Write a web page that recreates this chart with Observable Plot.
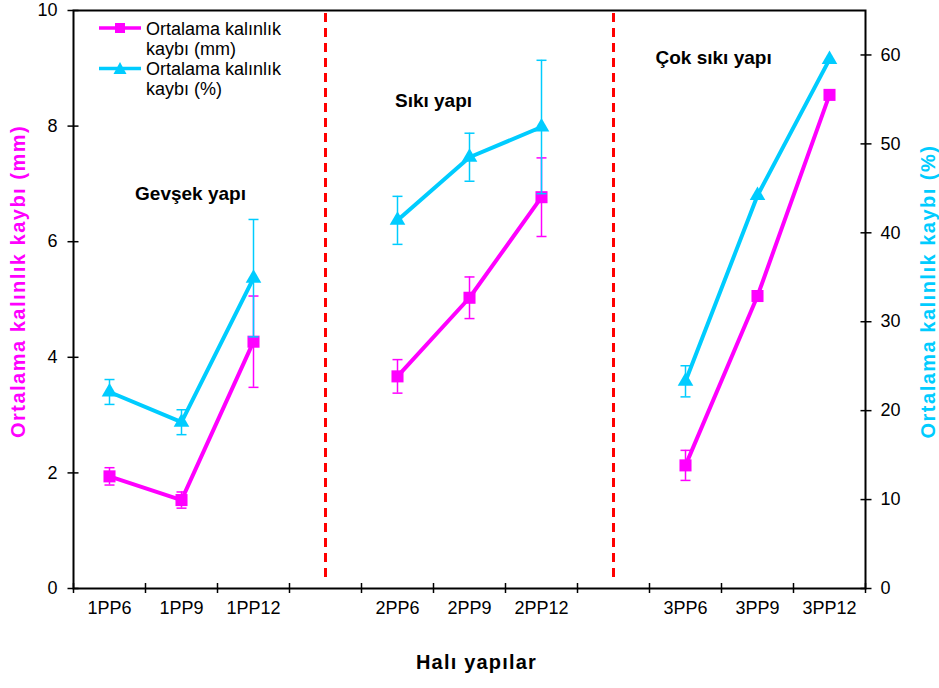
<!DOCTYPE html>
<html>
<head>
<meta charset="utf-8">
<script src="https://cdn.jsdelivr.net/npm/d3@7"></script>
<script src="https://cdn.jsdelivr.net/npm/@observablehq/plot@0.6"></script>
<style>
  body { margin: 0; background: #fff; }
  #wrap { position: relative; width: 939px; height: 688px; font-family: "Liberation Sans", Arial, sans-serif; }
  #legendSym { position: absolute; left: 0; top: 0; }
  #legendText { position: absolute; left: 146px; top: 18.6px; font-size: 18px; line-height: 20.3px; color: #000; white-space: nowrap; }
</style>
</head>
<body>
<div id="wrap">
  <div id="chart"></div>
  <svg id="legendSym" width="200" height="110">
    <line x1="99" x2="141" y1="28" y2="28" stroke="#FF00FF" stroke-width="3.5"/>
    <rect x="115" y="23" width="10" height="10" fill="#FF00FF"/>
    <line x1="99" x2="141" y1="68.5" y2="68.5" stroke="#00CCFF" stroke-width="3.5"/>
    <path d="M120,62 L126.5,74 L113.5,74 Z" fill="#00CCFF"/>
  </svg>
  <div id="legendText">Ortalama kalınlık<br>kaybı (mm)<br>Ortalama kalınlık<br>kaybı (%)</div>
</div>
<script>
// ---- data ----
const slots = ["1PP6", "1PP9", "1PP12", "ayrac1", "2PP6", "2PP9", "2PP12", "ayrac2", "3PP6", "3PP9", "3PP12"];
const categories = ["1PP6", "1PP9", "1PP12", "2PP6", "2PP9", "2PP12", "3PP6", "3PP9", "3PP12"];
const dividers = ["ayrac1", "ayrac2"];
const mmMean = [1.94, 1.53, 4.27, 3.67, 5.03, 6.77, 2.13, 5.06, 8.54];
const mmErr  = [0.15, 0.14, 0.79, 0.29, 0.36, 0.68, 0.26, 0, 0];
const pctMean = [22.1, 18.7, 34.9, 41.4, 48.5, 51.9, 23.3, 44.2, 59.5];
const pctErr  = [1.4, 1.4, 6.6, 2.7, 2.7, 7.5, 1.75, 0, 0];
const mmTicks = [0, 2, 4, 6, 8, 10];
const pctTicks = [0, 10, 20, 30, 40, 50, 60];
const mmMax = 10;
const pctMax = 65;
const groupTitles = ["Gevşek yapı", "Sıkı yapı", "Çok sıkı yapı"];
const yLeftTitle = "Ortalama kalınlık kaybı (mm)";
const yRightTitle = "Ortalama kalınlık kaybı (%)";
const xTitle = "Halı yapılar";

// ---- build ----
const toMM = p => p * mmMax / pctMax;
const rows = categories.map((c, i) => ({
  cat: c,
  group: c[0],
  x: slots.indexOf(c),
  mm: mmMean[i], mmLo: mmMean[i] - mmErr[i], mmHi: mmMean[i] + mmErr[i], mmE: mmErr[i],
  pct: toMM(pctMean[i]), pctLo: toMM(pctMean[i] - pctErr[i]), pctHi: toMM(pctMean[i] + pctErr[i]), pctE: pctErr[i]
}));
const errMM = rows.filter(d => d.mmE > 0);
const errPct = rows.filter(d => d.pctE > 0);
const MAG = "#FF00FF", CYA = "#00CCFF";
const FONT = "'Liberation Sans', Arial, sans-serif";
const cap = { draw(ctx) { ctx.moveTo(-5, 0); ctx.lineTo(5, 0); } };

const chart = Plot.plot({
  width: 939, height: 688,
  marginLeft: 73, marginRight: 74, marginTop: 10, marginBottom: 100,
  style: { fontFamily: FONT, fontSize: "18px", background: "white", color: "#000", overflow: "visible" },
  x: { type: "linear", domain: [-0.5, slots.length - 0.5], axis: null, label: null },
  y: { domain: [0, mmMax], axis: null, label: null },
  marks: [
    Plot.ruleX(dividers.map(d => slots.indexOf(d)), { stroke: "#FF0000", strokeWidth: 3, strokeDasharray: "9,6", insetTop: 3, insetBottom: 10 }),
    // mm series
    Plot.ruleX(errMM, { x: "x", y1: "mmLo", y2: "mmHi", stroke: MAG, strokeWidth: 1.5 }),
    Plot.dot(errMM, { x: "x", y: "mmLo", symbol: cap, stroke: MAG, strokeWidth: 1.5, fill: "none" }),
    Plot.dot(errMM, { x: "x", y: "mmHi", symbol: cap, stroke: MAG, strokeWidth: 1.5, fill: "none" }),
    Plot.line(rows, { x: "x", y: "mm", z: "group", stroke: MAG, strokeWidth: 4 }),
    Plot.dot(rows, { x: "x", y: "mm", symbol: "square", fill: MAG, r: 6.8 }),
    // % series
    Plot.ruleX(errPct, { x: "x", y1: "pctLo", y2: "pctHi", stroke: CYA, strokeWidth: 1.5 }),
    Plot.dot(errPct, { x: "x", y: "pctLo", symbol: cap, stroke: CYA, strokeWidth: 1.5, fill: "none" }),
    Plot.dot(errPct, { x: "x", y: "pctHi", symbol: cap, stroke: CYA, strokeWidth: 1.5, fill: "none" }),
    Plot.line(rows, { x: "x", y: "pct", z: "group", stroke: CYA, strokeWidth: 4 }),
    Plot.dot(rows, { x: "x", y: "pct", symbol: "triangle", fill: CYA, r: 5.8 }),
    // frame & axes
    Plot.frame({ stroke: "#000", strokeWidth: 2 }),
    Plot.axisY({ ticks: mmTicks, tickSize: 11, dx: 5.5, tickFormat: () => "", strokeWidth: 1.5 }),
    Plot.axisY({ ticks: mmTicks, tickSize: 0, tickPadding: 16, fontSize: 18 }),
    Plot.axisY({ anchor: "right", ticks: pctTicks.map(toMM), tickSize: 11, dx: -5.5, tickFormat: () => "", strokeWidth: 1.5 }),
    Plot.axisY({ anchor: "right", ticks: pctTicks.map(toMM), tickSize: 0, tickPadding: 15, fontSize: 18,
      tickFormat: v => String(Math.round(v * pctMax / mmMax)) }),
    Plot.axisX({ ticks: d3.range(-0.5, slots.length, 1), tickSize: 10, dy: -5, tickFormat: () => "", strokeWidth: 1.5 }),
    Plot.axisX({ ticks: categories.map(c => slots.indexOf(c)), tickSize: 0, tickPadding: 13, fontSize: 18,
      tickFormat: i => slots[i] }),
    // annotations
    Plot.text(groupTitles, { x: [1.125, 4.5, 8.39], y: [6.82, 8.44, 9.18], fontWeight: "bold", fontSize: 19, fill: "#000" }),
    Plot.text([yLeftTitle], { frameAnchor: "left", textAnchor: "middle", dx: -55, dy: -18, rotate: -90, fill: MAG, fontWeight: "bold", fontSize: 20 }),
    Plot.text([yRightTitle], { frameAnchor: "right", textAnchor: "middle", dx: 63, dy: -8, rotate: -90, fill: CYA, fontWeight: "bold", fontSize: 20 }),
    Plot.text([xTitle], { frameAnchor: "bottom", textAnchor: "middle", dx: 7, dy: 80, fill: "#000", fontWeight: "bold", fontSize: 20 })
  ]
});
d3.select(chart).selectAll("text").each(function () {
  const t = this.textContent;
  if (t === yLeftTitle || t === yRightTitle) this.style.letterSpacing = "1.5px";
  else if (t === xTitle) this.style.letterSpacing = "1.2px";
});
document.getElementById("chart").appendChild(chart);
</script>
</body>
</html>
